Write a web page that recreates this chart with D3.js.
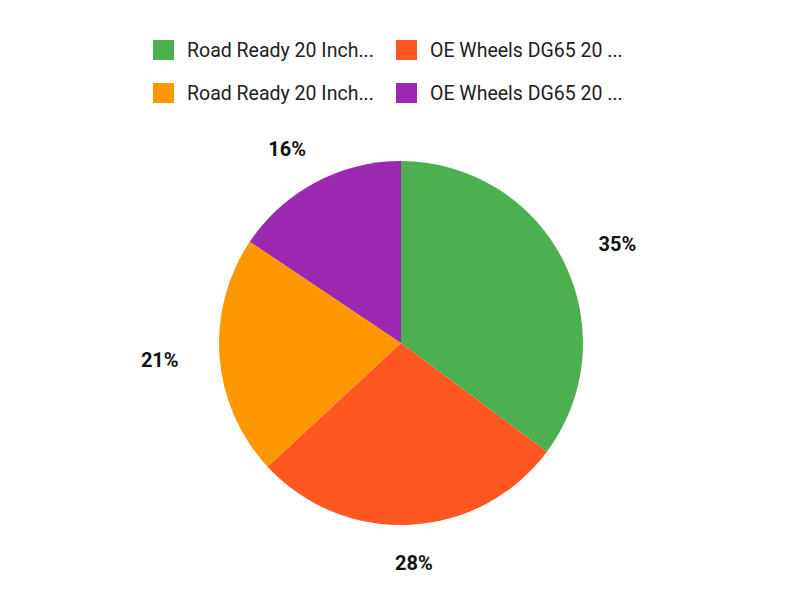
<!DOCTYPE html>
<html>
<head>
  <meta charset="utf-8">
  <style>
    body { margin: 0; background: white; font-family: Roboto, sans-serif; }
  </style>
</head>
<body>
  <svg id="chart"></svg>
  <script src="https://cdn.jsdelivr.net/npm/d3@7"></script>
  <script>
    // data
    var categories = [
      "Road Ready 20 Inch...",
      "OE Wheels DG65 20 ...",
      "Road Ready 20 Inch...",
      "OE Wheels DG65 20 ..."
    ];
    var values = [35.2, 27.9, 21.3, 15.6];
    var colors = ["#4caf50", "#ff5722", "#ff9800", "#9c27b0"];

    var width = 800, height = 600;
    var cx = 401, cy = 343, radius = 182;

    var svg = d3.select("#chart")
      .attr("width", width)
      .attr("height", height);

    var total = d3.sum(values);
    var pie = d3.pie().sort(null).value(function(d){ return d; });
    var arcs = pie(values);
    var arc = d3.arc().innerRadius(0).outerRadius(radius);

    var g = svg.append("g").attr("transform", "translate(" + cx + "," + cy + ")");

    g.selectAll("path")
      .data(arcs)
      .join("path")
      .attr("d", arc)
      .attr("fill", function(d, i){ return colors[i]; });

    // percentage labels outside the pie (on an ellipse around it)
    var labelRx = 242, labelRy = 220;
    g.selectAll("text")
      .data(arcs)
      .join("text")
      .attr("transform", function(d){
        var a = (d.startAngle + d.endAngle) / 2;
        return "translate(" + (labelRx * Math.sin(a)) + "," + (-labelRy * Math.cos(a)) + ")";
      })
      .attr("text-anchor", "middle")
      .attr("dominant-baseline", "central")
      .attr("font-size", "20px")
      .attr("font-weight", "bold")
      .attr("fill", "#111")
      .text(function(d){ return Math.round(d.value / total * 100) + "%"; });

    // legend, two columns
    var legend = svg.append("g");
    var items = legend.selectAll("g")
      .data(categories)
      .join("g")
      .attr("transform", function(d, i){
        var col = i % 2, row = Math.floor(i / 2);
        return "translate(" + (153 + col * 243) + "," + (40 + row * 43) + ")";
      });
    items.append("rect")
      .attr("width", 21)
      .attr("height", 20)
      .attr("fill", function(d, i){ return colors[i]; });
    items.append("text")
      .attr("x", 34)
      .attr("y", 10)
      .attr("dominant-baseline", "central")
      .attr("font-size", "19.5px")
      .attr("fill", "#212121")
      .text(function(d){ return d; });
  </script>
</body>
</html>
